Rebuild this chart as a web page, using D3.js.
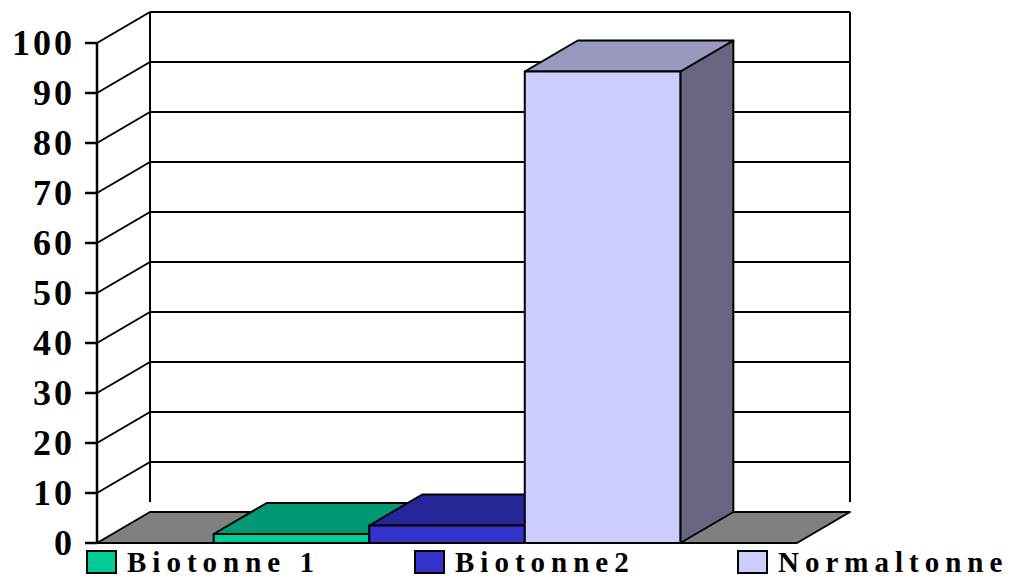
<!DOCTYPE html>
<html lang="en">
<head>
<meta charset="UTF-8">
<title>Biotonne vs Normaltonne</title>
<script src="https://d3js.org/d3.v7.min.js"></script>
<style>
  body { margin: 0; background: #fff; }
  text { font-family: "Liberation Serif", "Times New Roman", serif; font-weight: bold; fill: #000; }
</style>
</head>
<body>
<div id="chart"></div>
<script>
// data
const series = ["Biotonne 1", "Biotonne2", "Normaltonne"];
const values = [1.8, 3.5, 94.3];
const yTicks = [0, 10, 20, 30, 40, 50, 60, 70, 80, 90, 100];
const frontColors = ["#00cc99", "#3333cc", "#ccccff"];
const topColors = ["#009973", "#262699", "#9999c0"];
const sideColors = ["#00664d", "#1a1a66", "#666680"];

const W = 1012, H = 579;
const dx = 53, dy = -31; // 3d depth offset

const svg = d3.select("#chart").append("svg")
    .attr("width", W)
    .attr("height", H);

const y = d3.scaleLinear().domain([0, 100]).range([543, 43]);
const x = d3.scaleBand().domain(series).range([97, 797])
    .paddingInner(0).paddingOuter(0.75);
const x0 = 97, x1 = 797;

// back wall gridlines + left side wall diagonals
const grid = svg.append("g").attr("stroke", "#000").attr("stroke-width", 2).attr("fill", "none");
yTicks.filter(t => t > 0).forEach(t => {
    grid.append("line")
        .attr("x1", x0 + dx).attr("x2", x1 + dx)
        .attr("y1", y(t) + dy).attr("y2", y(t) + dy);
    grid.append("line")
        .attr("x1", x0).attr("y1", y(t))
        .attr("x2", x0 + dx).attr("y2", y(t) + dy);
});
// back verticals
[x0 + dx, x1 + dx].forEach(xx => {
    grid.append("line")
        .attr("x1", xx).attr("x2", xx)
        .attr("y1", y(100) + dy).attr("y2", y(0) + dy - 10);
});

// floor
svg.append("path")
    .attr("d", `M${x0},${y(0)} L${x1},${y(0)} L${x1 + dx},${y(0) + dy} L${x0 + dx},${y(0) + dy} Z`)
    .attr("fill", "#808080")
    .attr("stroke", "#000")
    .attr("stroke-width", 2)
    .attr("stroke-linejoin", "round");

// front axis
svg.append("line")
    .attr("x1", x0).attr("x2", x0)
    .attr("y1", y(100)).attr("y2", y(0))
    .attr("stroke", "#000").attr("stroke-width", 2.5);

const yAxis = svg.append("g");
yTicks.forEach(t => {
    yAxis.append("line")
        .attr("x1", x0 - 12).attr("x2", x0)
        .attr("y1", y(t)).attr("y2", y(t))
        .attr("stroke", "#000").attr("stroke-width", 2.5);
    yAxis.append("text")
        .attr("x", x0 - 22)
        .attr("y", y(t) + 12)
        .attr("text-anchor", "end")
        .attr("font-size", 36)
        .attr("letter-spacing", 3)
        .text(t);
});

// legend
const legendX = [87, 415, 738];
const legend = svg.append("g");
series.forEach((s, i) => {
    legend.append("rect")
        .attr("x", legendX[i]).attr("y", 551)
        .attr("width", 29).attr("height", 22)
        .attr("fill", frontColors[i])
        .attr("stroke", "#000").attr("stroke-width", 2);
    legend.append("text")
        .attr("x", legendX[i] + 40)
        .attr("y", 572)
        .attr("font-size", 29)
        .attr("letter-spacing", 6)
        .text(s);
});

// bars
const bars = svg.append("g").attr("stroke", "#000").attr("stroke-width", 2).attr("stroke-linejoin", "round");
series.forEach((s, i) => {
    const bx = x(s), bw = x.bandwidth();
    const by = y(values[i]), b0 = y(0);
    // side
    bars.append("path")
        .attr("d", `M${bx + bw},${by} L${bx + bw + dx},${by + dy} L${bx + bw + dx},${b0 + dy} L${bx + bw},${b0} Z`)
        .attr("fill", sideColors[i]);
    // top
    bars.append("path")
        .attr("d", `M${bx},${by} L${bx + dx},${by + dy} L${bx + bw + dx},${by + dy} L${bx + bw},${by} Z`)
        .attr("fill", topColors[i]);
    // front
    bars.append("rect")
        .attr("x", bx).attr("y", by)
        .attr("width", bw).attr("height", b0 - by)
        .attr("fill", frontColors[i]);
});
</script>
</body>
</html>
